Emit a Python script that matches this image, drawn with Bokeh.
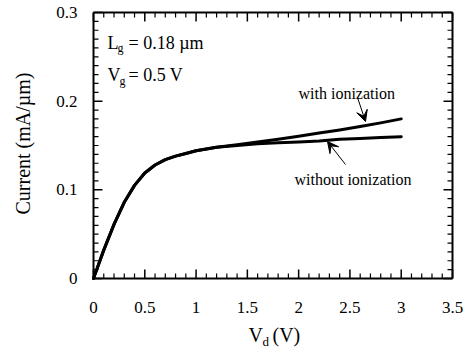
import math
from bokeh.plotting import figure
from bokeh.models import (Label, Arrow, VeeHead, LinearAxis, FixedTicker,
                          CustomJSTickFormatter, Range1d)
from bokeh.embed import file_html
from bokeh.resources import INLINE

# Drain voltage (V) and drain current (mA/um)
vd = [0.0, 0.05, 0.1, 0.2, 0.3, 0.4, 0.5, 0.6, 0.7, 0.8, 0.9, 1.0,
      1.2, 1.4, 1.6, 1.8, 2.0, 2.2, 2.4, 2.6, 2.8, 3.0]
i_without = [0.0, 0.016, 0.032, 0.061, 0.086, 0.105, 0.119, 0.128, 0.134, 0.138, 0.141, 0.144,
             0.148, 0.150, 0.152, 0.153, 0.154, 0.155, 0.157, 0.158, 0.159, 0.160]
i_with = [0.0, 0.016, 0.032, 0.061, 0.086, 0.105, 0.119, 0.128, 0.134, 0.138, 0.141, 0.144,
          0.148, 0.151, 0.154, 0.157, 0.1605, 0.164, 0.1675, 0.1715, 0.1755, 0.180]

x_ticks = [0.0, 0.5, 1.0, 1.5, 2.0, 2.5, 3.0, 3.5]
x_tick_labels = ["0", "0.5", "1", "1.5", "2", "2.5", "3", "3.5"]
y_ticks = [0.0, 0.1, 0.2, 0.3]
y_tick_labels = ["0", "0.1", "0.2", "0.3"]
x_minor_step = 0.1
y_minor_step = 0.01

FONT = "Liberation Serif"
W, H = 466, 350
# plotting box inside the canvas (pixels)
LEFT, RIGHT, TOP, BOTTOM = 93, 14, 12, 72
X0, X1 = 0.0, 3.5
Y0, Y1 = 0.0, 0.3
BW, BH = W - LEFT - RIGHT, H - TOP - BOTTOM
SX = (X1 - X0) / BW
SY = (Y1 - Y0) / BH


def dx(px):
    """canvas pixel column -> data x"""
    return X0 + (px - LEFT) * SX


def dy(py):
    """canvas pixel row -> data y"""
    return Y0 + (H - BOTTOM - py) * SY


# The frame covers the whole canvas; axes are pinned to the box edges.
p = figure(width=W, height=H, output_backend="svg", toolbar_location=None, title=None,
           x_range=Range1d(dx(0), dx(W)), y_range=Range1d(dy(H), dy(0)),
           min_border=0, x_axis_type=None, y_axis_type=None)
p.grid.visible = False
p.outline_line_color = None
p.background_fill_color = "white"
p.border_fill_color = "white"


def tick_formatter(values, labels):
    return CustomJSTickFormatter(args=dict(tick_values=values, tick_labels=labels), code="""
        for (let i = 0; i < tick_values.length; i++) {
            if (Math.abs(tick_values[i] - tick) < 1e-9) return tick_labels[i];
        }
        return '';
    """)


def make_axis(ticks, bounds, loc, formatter, standoff):
    ax = LinearAxis(ticker=FixedTicker(ticks=ticks), formatter=formatter,
                    fixed_location=loc, bounds=bounds)
    ax.axis_line_color = "black"
    ax.axis_line_width = 2
    ax.major_tick_in = 0
    ax.major_tick_out = 0
    ax.minor_tick_in = 0
    ax.minor_tick_out = 0
    ax.major_label_text_font = FONT
    ax.major_label_text_font_size = "17px"
    ax.major_label_text_color = "black"
    ax.major_label_standoff = standoff
    return ax


p.add_layout(make_axis(x_ticks, (X0, X1), Y0, tick_formatter(x_ticks, x_tick_labels), 23), "below")
p.add_layout(make_axis(y_ticks, (Y0, Y1), X0, tick_formatter(y_ticks, y_tick_labels), 16), "left")

# Box edges on the top and right sides
p.segment(x0=[X0, X1], y0=[Y1, Y0], x1=[X1, X1], y1=[Y1, Y1], line_color="black", line_width=2)

# Inward tick marks on all four sides, drawn as thin filled bars
x_minor = [round(i * x_minor_step, 3) for i in range(int(round((X1 - X0) / x_minor_step)) + 1)]
y_minor = [round(i * y_minor_step, 3) for i in range(int(round((Y1 - Y0) / y_minor_step)) + 1)]
x_minor = [v for v in x_minor if all(abs(v - t) > 1e-9 for t in x_ticks)]
y_minor = [v for v in y_minor if all(abs(v - t) > 1e-9 for t in y_ticks)]


def x_tick_marks(vals, length_px, width_px):
    half = 0.5 * length_px * SY
    xs = list(vals) + list(vals)
    ys = [Y0 + half] * len(vals) + [Y1 - half] * len(vals)
    p.rect(x=xs, y=ys, width=width_px, height=length_px,
           width_units="screen", height_units="screen",
           fill_color="black", line_color=None)


def y_tick_marks(vals, length_px, width_px):
    half = 0.5 * length_px * SX
    ys = list(vals) + list(vals)
    xs = [X0 + half] * len(vals) + [X1 - half] * len(vals)
    p.rect(x=xs, y=ys, width=length_px, height=width_px,
           width_units="screen", height_units="screen",
           fill_color="black", line_color=None)


x_tick_marks(x_ticks, 9, 1.5)
x_tick_marks(x_minor, 5, 1.2)
y_tick_marks(y_ticks, 9, 1.5)
y_tick_marks(y_minor, 5, 1.2)

# Output characteristics
p.line(vd, i_without, line_color="black", line_width=3, line_join="round", line_cap="round")
p.line(vd, i_with, line_color="black", line_width=3, line_join="round", line_cap="round")


def text(x, y, s, size="16px", **kw):
    p.add_layout(Label(x=x, y=y, text=s, text_font=FONT, text_font_size=size,
                       text_color="black", text_baseline="alphabetic", **kw))


# Device parameters
text(dx(107), dy(42), "L", "18px")
text(dx(117), dy(47), "g", "12px")
text(dx(128), dy(42), "= 0.18 µm", "18px")
text(dx(107), dy(74), "V", "18px")
text(dx(119), dy(80), "g", "12px")
text(dx(128), dy(74), "= 0.5 V", "18px")

# Curve annotations
text(dx(298), dy(93), "with ionization", "16px")
text(dx(294), dy(179), "without ionization", "16px")
p.add_layout(Arrow(end=VeeHead(size=11, fill_color="black", line_color="black"),
                   x_start=dx(357), y_start=dy(97), x_end=dx(365), y_end=dy(121),
                   line_color="black", line_width=1))
p.add_layout(Arrow(end=VeeHead(size=11, fill_color="black", line_color="black"),
                   x_start=dx(345), y_start=dy(164), x_end=dx(327), y_end=dy(141),
                   line_color="black", line_width=1))

# Axis titles
text(dx(248), dy(334), "V", "20px")
text(dx(262), dy(341), "d", "13px")
text(dx(272), dy(334), "(V)", "20px")
text(dx(22), dy(143), "Current (mA/µm)", "20px", angle=math.pi / 2, text_align="center")

open("out.html", "w").write(file_html(p, INLINE))
